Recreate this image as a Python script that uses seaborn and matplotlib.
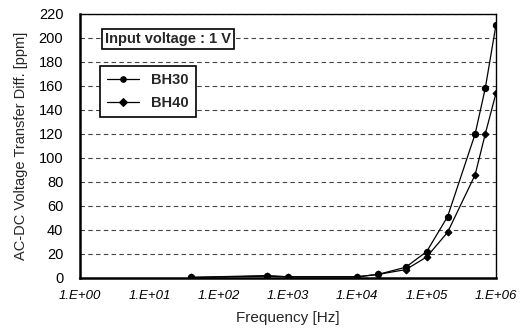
import matplotlib
matplotlib.use("Agg")
import matplotlib.pyplot as plt
import seaborn as sns
import pandas as pd
from matplotlib.ticker import FixedLocator, FixedFormatter

freq = [40, 500, 1000, 10000, 20000, 50000, 100000, 200000, 500000, 700000, 1000000]
bh30 = [0.5, 2, 1, 1, 3, 9, 22, 51, 120, 158, 211]
bh40 = [0.5, 1.5, 1, 1, 3, 7, 17.5, 38, 86, 120, 154]
series_names = ["BH30", "BH40"]
xtick_vals = [1, 10, 100, 1000, 10000, 100000, 1000000]
xtick_labels = ["1.E+00", "1.E+01", "1.E+02", "1.E+03", "1.E+04", "1.E+05", "1.E+06"]
ytick_vals = list(range(0, 221, 20))

df = pd.DataFrame({
    "freq": freq * 2,
    "val": bh30 + bh40,
    "series": [series_names[0]] * len(freq) + [series_names[1]] * len(freq),
})

sns.set_style("white")
plt.rcParams['font.family'] = ['Liberation Sans', 'DejaVu Sans']

fig = plt.figure(figsize=(5.21, 3.34), dpi=100)
ax = fig.add_axes([0.1536, 0.1677, 0.7984, 0.7904])

sns.lineplot(data=df, x="freq", y="val", hue="series", style="series",
             markers={"BH30": "o", "BH40": "D"}, dashes=False,
             palette={"BH30": "black", "BH40": "black"},
             linewidth=0.9, markersize=4, markeredgecolor="black", ax=ax)
for line, ms in zip(ax.lines, [4.5, 3.5]):
    line.set_markersize(ms)

ax.set_xscale("log")
ax.set_xlim(1, 1e6)
ax.set_ylim(0, 220)
ax.xaxis.set_major_locator(FixedLocator(xtick_vals))
ax.xaxis.set_major_formatter(FixedFormatter(xtick_labels))
ax.xaxis.set_minor_locator(FixedLocator([]))
ax.set_yticks(ytick_vals)
for y in ytick_vals[1:]:
    ax.axhline(y, color="#444444", linestyle=(0, (4, 3)), linewidth=0.8, zorder=0)

for lab in ax.get_xticklabels():
    lab.set_fontstyle("italic")
ax.tick_params(axis="x", direction="in", length=3, width=1, labelsize=9.5, pad=9, colors="black")
ax.tick_params(axis="y", direction="in", length=0, labelsize=10.5, pad=12, colors="black")

for side in ["left", "bottom"]:
    ax.spines[side].set_linewidth(1.8)
for side in ["top", "right"]:
    ax.spines[side].set_linewidth(1.0)
for s in ax.spines.values():
    s.set_color("black")

ax.set_xlabel("Frequency [Hz]", fontsize=11, labelpad=6)
ax.set_ylabel("AC-DC Voltage Transfer Diff. [ppm]", fontsize=10.5, labelpad=8)

leg = ax.legend(title=None, loc="upper left", bbox_to_anchor=(0.03, 0.83),
                fontsize=10.5, frameon=True, fancybox=False, edgecolor="black",
                framealpha=1, borderpad=0.5, handlelength=2.2, labelspacing=0.6)
leg.get_frame().set_linewidth(1.2)
for t in leg.get_texts():
    t.set_fontweight("bold")

ax.text(0.06, 0.905, "Input voltage : 1 V", transform=ax.transAxes, fontsize=10.5,
        fontweight="bold", va="center", ha="left",
        bbox=dict(boxstyle="square,pad=0.2", facecolor="white", edgecolor="black", linewidth=1.2))

fig.savefig("out.png", dpi=100)
